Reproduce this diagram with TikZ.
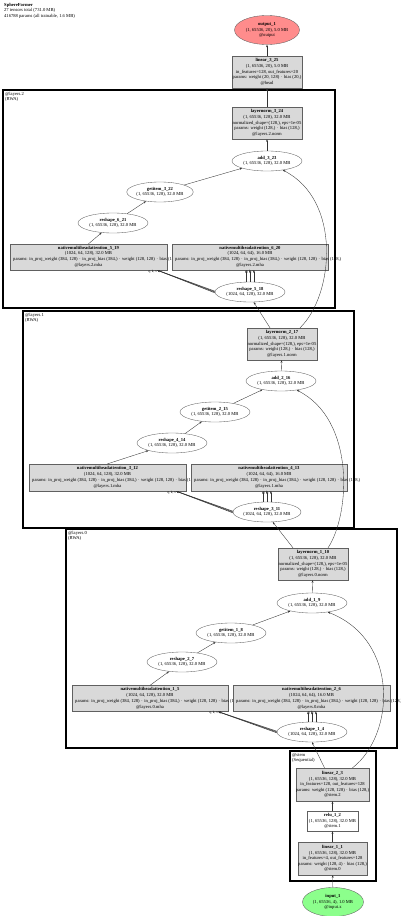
\documentclass[tikz,border=0pt]{standalone}
\usepackage{fontspec}
\setmainfont{Liberation Serif}
\usetikzlibrary{shapes.geometric,arrows.meta}
\tikzset{
  base/.style={inner sep=0pt, align=center, font=\fontsize{4.6}{5.6}\selectfont},
  box/.style={base, rectangle, draw=gray!75!black, line width=0.35pt, fill=gray!30},
  wbox/.style={base, rectangle, draw=gray!75!black, line width=0.35pt, fill=white},
  ell/.style={base, ellipse, draw=gray!75!black, line width=0.35pt, fill=white},
  txt/.style={base, inner sep=0pt},
  clus/.style={draw=black, line width=1.4pt},
  cl/.style={base, anchor=north west, align=left},
  edge/.style={draw=black!80, line width=0.35pt, -{Stealth[length=2.6pt,width=1.9pt]}},
  elab/.style={base, font=\fontsize{3.4}{3.8}\selectfont},
}
\newcommand{\pline}{params: in\_proj\_weight (384, 128) $\cdot$ in\_proj\_bias (384,) $\cdot$ weight (128, 128) $\cdot$ bias (128,)}
\begin{document}
\begin{tikzpicture}[x=1pt,y=-1pt]
\useasboundingbox (0,0) rectangle (400,916);
% title
\node[cl] (title) at (4,3) {\textbf{SphereFormer}\\27 tensors total (731.0 MB)\\416788 params (all trainable, 1.6 MB)};

% clusters
\draw[clus] (3,90) rectangle (335,308);
\node[cl] (c2) at (5,92) {@layers.2\\(RWA)};
\draw[clus] (23,311) rectangle (354,528);
\node[cl] (c1) at (25,313) {@layers.1\\(RWA)};
\draw[clus] (66,529) rectangle (397,748);
\node[cl] (c0) at (68,531) {@layers.0\\(RWA)};
\draw[clus] (290,751) rectangle (376,881);
\node[cl] (cs) at (292,753) {@stem\\(Sequential)};

% top
\node[ell, fill=red!45!white, minimum width=65pt, minimum height=29pt] (out) at (267,30) {\textbf{output\_1}\\(1, 65536, 20), 5.0 MB\\@output};
\node[box, minimum width=70pt, minimum height=32pt] (lin325) at (267,72) {\textbf{linear\_3\_25}\\(1, 65536, 20), 5.0 MB\\in\_features=128, out\_features=20\\params: weight (20, 128) $\cdot$ bias (20,)\\@head};

% layers.2
\node[box, minimum width=70pt, minimum height=32pt] (ln324) at (267,123) {\textbf{layernorm\_3\_24}\\(1, 65536, 128), 32.0 MB\\normalized\_shape=(128,), eps=1e-05\\params: weight (128,) $\cdot$ bias (128,)\\@layers.2.norm};
\node[ell, minimum width=70pt, minimum height=20pt] (add323) at (267,161) {\textbf{add\_3\_23}\\(1, 65536, 128), 32.0 MB};
\node[ell, minimum width=64pt, minimum height=20pt] (gi322) at (160,192) {\textbf{getitem\_3\_22}\\(1, 65536, 128), 32.0 MB};
\node[ell, minimum width=70pt, minimum height=20pt] (rs621) at (113,223) {\textbf{reshape\_6\_21}\\(1, 65536, 128), 32.0 MB};
\node[box, minimum width=157pt, minimum height=26pt] (mha519) at (88.5,257) {};
\node[txt] (t519a) at (88.5,248) {\textbf{nativemultiheadattention\_5\_19}};
\node[txt] (t519b) at (88.5,253.7) {(1024, 64, 128), 32.0 MB};
\node[txt, anchor=west] (t519c) at (13,259.7) {\pline};
\node[txt] (t519d) at (88.5,265.5) {@layers.2.mha};
\node[box, minimum width=156pt, minimum height=26pt] (mha620) at (250,257) {};
\node[txt] (t620a) at (250,248) {\textbf{nativemultiheadattention\_6\_20}};
\node[txt] (t620b) at (250,253.7) {(1024, 64, 64), 16.0 MB};
\node[txt, anchor=west] (t620c) at (175,259.7) {\pline};
\node[txt] (t620d) at (250,265.5) {@layers.2.mha};
\node[ell, minimum width=70pt, minimum height=20pt] (rs518) at (250,292) {\textbf{reshape\_5\_18}\\(1024, 64, 128), 32.0 MB};

% layers.1
\node[box, minimum width=70pt, minimum height=32pt] (ln217) at (282,344) {\textbf{layernorm\_2\_17}\\(1, 65536, 128), 32.0 MB\\normalized\_shape=(128,), eps=1e-05\\params: weight (128,) $\cdot$ bias (128,)\\@layers.1.norm};
\node[ell, minimum width=70pt, minimum height=20pt] (add216) at (281,381) {\textbf{add\_2\_16}\\(1, 65536, 128), 32.0 MB};
\node[ell, minimum width=70pt, minimum height=20pt] (gi215) at (215,412) {\textbf{getitem\_2\_15}\\(1, 65536, 128), 32.0 MB};
\node[ell, minimum width=70pt, minimum height=20pt] (rs414) at (172,443) {\textbf{reshape\_4\_14}\\(1, 65536, 128), 32.0 MB};
\node[box, minimum width=157pt, minimum height=27pt] (mha312) at (107.5,477.5) {};
\node[txt] (t312a) at (107.5,468.5) {\textbf{nativemultiheadattention\_3\_12}};
\node[txt] (t312b) at (107.5,474.2) {(1024, 64, 128), 32.0 MB};
\node[txt, anchor=west] (t312c) at (32,480.2) {\pline};
\node[txt] (t312d) at (107.5,486) {@layers.1.mha};
\node[box, minimum width=156pt, minimum height=27pt] (mha413) at (269,477.5) {};
\node[txt] (t413a) at (269,468.5) {\textbf{nativemultiheadattention\_4\_13}};
\node[txt] (t413b) at (269,474.2) {(1024, 64, 64), 16.0 MB};
\node[txt, anchor=west] (t413c) at (194,480.2) {\pline};
\node[txt] (t413d) at (269,486) {@layers.1.mha};
\node[ell, minimum width=68pt, minimum height=20pt] (rs311) at (267,512) {\textbf{reshape\_3\_11}\\(1024, 64, 128), 32.0 MB};

% layers.0
\node[box, minimum width=70pt, minimum height=32pt] (ln110) at (313,564) {\textbf{layernorm\_1\_10}\\(1, 65536, 128), 32.0 MB\\normalized\_shape=(128,), eps=1e-05\\params: weight (128,) $\cdot$ bias (128,)\\@layers.0.norm};
\node[ell, minimum width=70pt, minimum height=20pt] (add19) at (312,603) {\textbf{add\_1\_9}\\(1, 65536, 128), 32.0 MB};
\node[ell, minimum width=70pt, minimum height=20pt] (gi18) at (231,633) {\textbf{getitem\_1\_8}\\(1, 65536, 128), 32.0 MB};
\node[ell, minimum width=70pt, minimum height=20pt] (rs27) at (182,662) {\textbf{reshape\_2\_7}\\(1, 65536, 128), 32.0 MB};
\node[box, minimum width=156pt, minimum height=26pt] (mha15) at (150,698.5) {};
\node[txt] (t15a) at (150,689.5) {\textbf{nativemultiheadattention\_1\_5}};
\node[txt] (t15b) at (150,695.2) {(1024, 64, 128), 32.0 MB};
\node[txt, anchor=west] (t15c) at (75,701.2) {\pline};
\node[txt] (t15d) at (150,707) {@layers.0.mha};
\node[box, minimum width=157pt, minimum height=26pt] (mha26) at (311.5,698.5) {};
\node[txt] (t26a) at (311.5,689.5) {\textbf{nativemultiheadattention\_2\_6}};
\node[txt] (t26b) at (311.5,695.2) {(1024, 64, 64), 16.0 MB};
\node[txt, anchor=west] (t26c) at (236,701.2) {\pline};
\node[txt] (t26d) at (311.5,707) {@layers.0.mha};
\node[ell, minimum width=70pt, minimum height=20pt] (rs14) at (312,732) {\textbf{reshape\_1\_4}\\(1024, 64, 128), 32.0 MB};

% stem
\node[box, minimum width=71pt, minimum height=33pt] (lin23) at (332.5,784.5) {\textbf{linear\_2\_3}\\(1, 65536, 128), 32.0 MB\\in\_features=128, out\_features=128\\params: weight (128, 128) $\cdot$ bias (128,)\\@stem.2};
\node[wbox, minimum width=51pt, minimum height=20pt] (relu12) at (332.5,821) {\textbf{relu\_1\_2}\\(1, 65536, 128), 32.0 MB\\@stem.1};
\node[box, minimum width=69pt, minimum height=33pt] (lin11) at (332.5,858.5) {\textbf{linear\_1\_1}\\(1, 65536, 128), 32.0 MB\\in\_features=4, out\_features=128\\params: weight (128, 4) $\cdot$ bias (128,)\\@stem.0};
\node[ell, fill=green!45!white, minimum width=61pt, minimum height=29pt] (inp) at (333,902) {\textbf{input\_1}\\(1, 65536, 4), 1.0 MB\\@input.x};

% edges: stem and layers.0
\draw[edge] (inp) -- (lin11);
\draw[edge] (lin11) -- (relu12);
\draw[edge] (relu12) -- (lin23);
\draw[edge] ([xshift=-8pt]lin23.north) -- (rs14.south);
\draw[edge] ([xshift=20pt]lin23.north) .. controls (395,735) and (400,640) .. (add19.-30);
\foreach \dx in {-4,0,4} \draw[edge] ([xshift=\dx pt]rs14.north) -- ([xshift=\dx pt]rs14.north |- mha26.south);
\draw[edge] (mha15.north) -- (rs27);
\draw[edge] (rs27) -- (gi18);
\draw[edge] (gi18) -- (add19);
\draw[edge] (add19) -- (ln110);
\draw[edge] ([xshift=-20pt]ln110.north) -- (rs311.-60);
\draw[edge] ([xshift=15pt]ln110.north) .. controls (350,515) and (356,420) .. (add216.-30);

% layers.1 edges
\foreach \dx in {-4,0,4} \draw[edge] ([xshift=\dx pt]rs311.north) -- ([xshift=\dx pt]rs311.north |- mha413.south);
\draw[edge] (mha312.north) -- (rs414);
\draw[edge] (rs414) -- (gi215);
\draw[edge] (gi215) -- (add216);
\draw[edge] (add216) -- (ln217);
\draw[edge] ([xshift=-12pt]ln217.north) -- (rs518.-70);
\draw[edge] ([xshift=18pt]ln217.north) .. controls (334,295) and (342,200) .. (add323.-30);

% layers.2 edges
\foreach \dx in {-4,0,4} \draw[edge] ([xshift=\dx pt]rs518.north) -- ([xshift=\dx pt]rs518.north |- mha620.south);
\draw[edge] (mha519.north) -- (rs621);
\draw[edge] (rs621) -- (gi322);
\draw[edge] (gi322) -- (add323);
\draw[edge] (add323) -- (ln324);
\draw[edge] (ln324) -- (lin325);
\draw[edge] (lin325) -- (out);

% bundles to left mha
\foreach \o in {-0.8,0,0.8} {
  \draw[edge, line width=0.5pt] ([yshift=\o pt]rs518.west) -- ([xshift=-10pt]mha519.south east);
  \draw[edge, line width=0.5pt] ([yshift=\o pt]rs311.west) -- ([xshift=-10pt]mha312.south east);
  \draw[edge, line width=0.5pt] ([yshift=\o pt]rs14.west) -- ([xshift=-10pt]mha15.south east);
}
% edge labels
\node[elab, anchor=north east] (l519) at ([xshift=-10pt,yshift=0.5pt]mha519.south east) {q, k, v};
\node[elab, anchor=north] (l620) at ([yshift=0.5pt]rs518.north |- mha620.south) {q, k, v};
\node[elab, anchor=north east] (l312) at ([xshift=-10pt,yshift=0.5pt]mha312.south east) {q, k, v};
\node[elab, anchor=north] (l413) at ([yshift=0.5pt]rs311.north |- mha413.south) {q, k, v};
\node[elab, anchor=north east] (l15) at ([xshift=-10pt,yshift=0.5pt]mha15.south east) {q, k, v};
\node[elab, anchor=north] (l26) at ([yshift=0.5pt]rs14.north |- mha26.south) {q, k, v};
\end{tikzpicture}
\end{document}
